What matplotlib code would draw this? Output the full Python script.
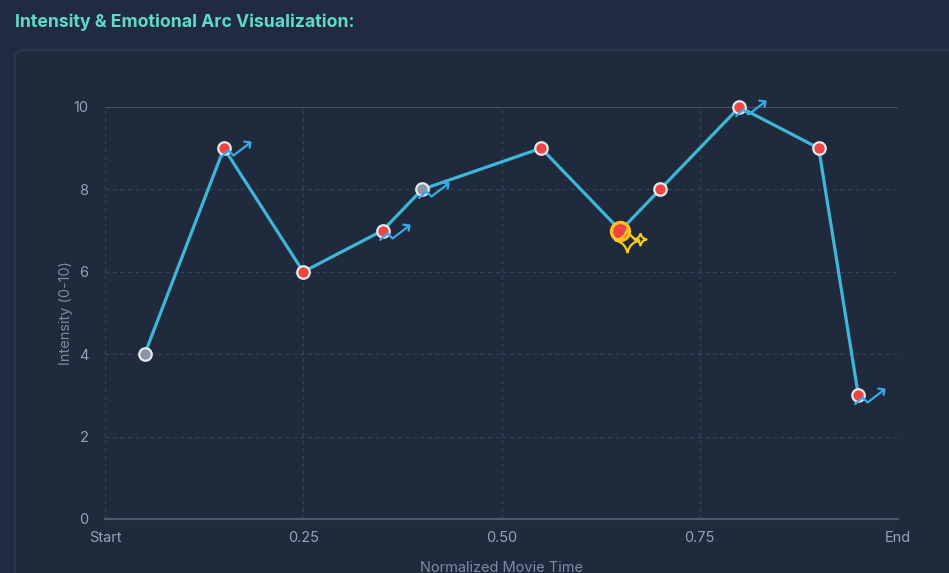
import numpy as np
import matplotlib
matplotlib.use("Agg")
import matplotlib.pyplot as plt
from matplotlib.path import Path
from matplotlib.patches import FancyBboxPatch

# scene data
times = [0.05, 0.15, 0.25, 0.35, 0.40, 0.55, 0.65, 0.70, 0.80, 0.90, 0.95]
intensity = [4, 9, 6, 7, 8, 9, 7, 8, 10, 9, 3]
kinds = ["calm", "peak", "peak", "peak", "calm", "peak", "key", "peak", "peak", "peak", "peak"]
rising = [False, True, False, True, True, False, False, False, True, False, True]

x_ticks = [0, 0.25, 0.5, 0.75, 1.0]
x_labels = ["Start", "0.25", "0.50", "0.75", "End"]
y_ticks = [0, 2, 4, 6, 8, 10]

BG = "#202b42"
CARD = "#1f2a3c"
LINE = "#3fb5d8"
ICON = "#38a9e6"
RED = "#ef4444"
GREY = "#8a94a6"
YELLOW = "#fbbf24"
TICK = "#94a3b8"
GRID = "#36445a"

plt.rcParams['font.family'] = ['Inter', 'DejaVu Sans']


def trend_path():
    # small "trending up" glyph, offsets in pixels from the point (y up)
    verts = [(-4, -9), (4, -2), (9, -7), (26, 6),
             (19, 7), (26, 6), (25, 0)]
    codes = [Path.MOVETO, Path.LINETO, Path.LINETO, Path.LINETO,
             Path.MOVETO, Path.LINETO, Path.LINETO]
    v = np.array(verts, float)
    # pad so the glyph keeps its offset from the marker centre
    v = np.vstack([v, [[-26, -26], [-26, -26]]])
    codes += [Path.MOVETO, Path.LINETO]
    return Path(v, codes), 26


def star(cx, cy, R, k=0.18):
    pts = [(cx, cy + R), (cx + R, cy), (cx, cy - R), (cx - R, cy)]
    verts, codes = [pts[0]], [Path.MOVETO]
    for i in range(4):
        a, b = pts[i], pts[(i + 1) % 4]
        ctrl = (cx + (a[0] + b[0] - 2 * cx) * k, cy + (a[1] + b[1] - 2 * cy) * k)
        verts += [ctrl, b]
        codes += [Path.CURVE3, Path.CURVE3]
    return verts, codes


def sparkle_path():
    v1, c1 = star(7, -9, 12)
    v2, c2 = star(20, -8, 6)
    v = np.array(v1 + v2 + [(-26, -26), (-26, -26)], float)
    codes = c1 + c2 + [Path.MOVETO, Path.LINETO]
    return Path(v, codes), 26


fig = plt.figure(figsize=(9.49, 5.73), dpi=100, facecolor=BG)
W, H = 949, 573

card = FancyBboxPatch((15 / W, -0.05), 1.0, (H - 50) / H + 0.05,
                      boxstyle="round,pad=0,rounding_size=0.012",
                      transform=fig.transFigure, facecolor=CARD,
                      edgecolor="#2c384c", linewidth=1.2, zorder=-5)
fig.patches.append(card)

fig.text(15 / W, 1 - 22 / H, "Intensity & Emotional Arc Visualization:",
         color="#5fd9c8", fontsize=12.7, fontweight="bold", va="center", ha="left")

ax = fig.add_axes([105 / W, 1 - 519 / H, 793 / W, 412 / H])
ax.set_zorder(2)
ax.set_facecolor(CARD)
ax.set_xlim(0, 1)
ax.set_ylim(0, 10)
for s in ["top", "left", "right"]:
    ax.spines[s].set_visible(False)
ax.spines["bottom"].set_color("#4b586c")
ax.spines["bottom"].set_linewidth(1.6)
ax.axhline(10, color="#4b586c", lw=1.2, zorder=1)

ax.set_xticks(x_ticks, x_labels)
ax.set_yticks(y_ticks)
ax.tick_params(colors=TICK, labelsize=10.5, length=0, pad=9)
ax.tick_params(axis="y", pad=12)
ax.grid(True, color=GRID, linestyle=(0, (3, 3)), linewidth=0.9)
ax.set_axisbelow(True)
ax.set_xlabel("Normalized Movie Time", color="#7d8aa0", fontsize=10.5, labelpad=11)
ax.set_ylabel("Intensity (0-10)", color="#7d8aa0", fontsize=10.5, labelpad=0)

ax.plot(times, intensity, color=LINE, lw=2.3, zorder=3, solid_joinstyle="round")

tx = np.array(times)
ty = np.array(intensity)
kinds_a = np.array(kinds)

m = kinds_a == "peak"
ax.plot(tx[m], ty[m], ls="none", marker="o", ms=9, mfc=RED, mec="#e5e7eb", mew=1.6,
        zorder=4, clip_on=False)
m = kinds_a == "calm"
ax.plot(tx[m], ty[m], ls="none", marker="o", ms=9, mfc=GREY, mec="#e5e7eb", mew=1.6,
        zorder=4, clip_on=False)
m = kinds_a == "key"
ax.plot(tx[m], ty[m], ls="none", marker="o", ms=13, mfc=RED, mec=YELLOW, mew=2.4,
        zorder=4, clip_on=False)

tp, ext = trend_path()
r = np.array(rising)
ax.plot(tx[r], ty[r], ls="none", marker=tp, ms=2 * ext * 0.72, fillstyle="none",
        mec=ICON, mew=1.6, zorder=5, clip_on=False)

sp, ext2 = sparkle_path()
ax.plot(tx[m], ty[m], ls="none", marker=sp, ms=2 * ext2 * 0.72, fillstyle="none",
        mec="#facc15", mew=1.6, zorder=5, clip_on=False)

fig.savefig("out.png", dpi=100, facecolor=BG)
